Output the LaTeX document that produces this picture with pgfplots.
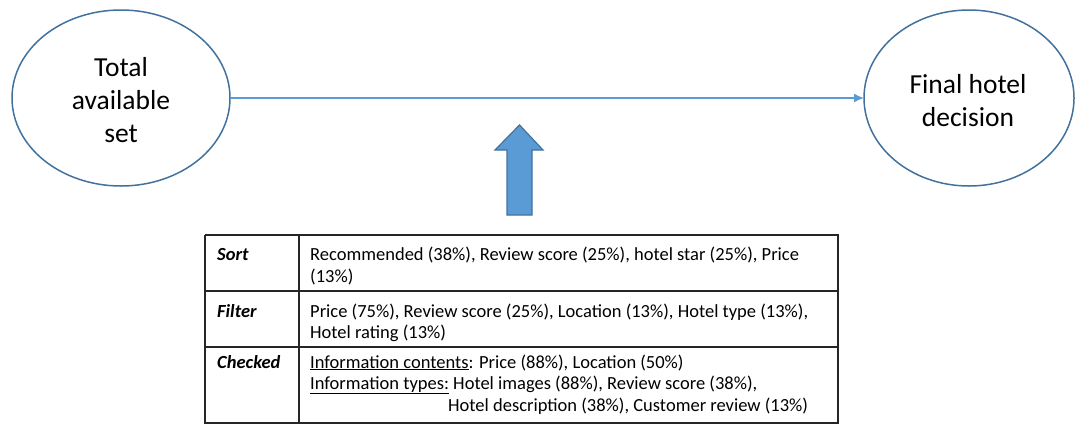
\documentclass[border=0pt]{standalone}
\usepackage{pgfplots}
\pgfplotsset{compat=1.18}
\usetikzlibrary{arrows.meta}
\usepackage{fontspec}
\setmainfont{Carlito}
\definecolor{edge}{RGB}{65,113,156}
\definecolor{fillb}{RGB}{91,155,213}
\begin{document}
\begin{tikzpicture}
\begin{axis}[x=1pt,y=1pt,xmin=0,xmax=1075,ymin=0,ymax=423,y dir=reverse,
  axis lines=none,scale only axis,clip=false,ticks=none]
% bounding
\addplot[draw=none,forget plot] coordinates {(0,0) (1075,423)};
% ellipses
\draw[edge,line width=1.5pt] (axis cs:121,98) ellipse [x radius=109, y radius=88];
\draw[edge,line width=1.5pt] (axis cs:969,98) ellipse [x radius=105, y radius=88];
% connecting arrow
\addplot[fillb,line width=1.5pt,-{Latex[length=10pt,width=9pt]}] coordinates {(230,98) (864,98)};
% up arrow
\addplot[draw=edge,fill=fillb,line width=1.2pt] coordinates {(507,215) (532,215) (532,150) (543,150) (519.5,125) (495,150) (507,150) (507,215)} --cycle;
% table
\addplot[black!85,line width=1.6pt] coordinates {(205,235) (838,235) (838,423) (205,423) (205,235)};
\addplot[black!85,line width=1.6pt] coordinates {(205,291) (838,291)};
\addplot[black!85,line width=1.6pt] coordinates {(205,347) (838,347)};
\addplot[black!85,line width=1.6pt] coordinates {(299,235) (299,423)};
% ellipse text
\node[align=center,font=\fontsize{27.5}{33}\selectfont] at (axis cs:121,100) {Total\\available\\set};
\node[align=center,font=\fontsize{27.5}{33}\selectfont] at (axis cs:968,101) {Final hotel\\decision};
% table text
\tikzset{tt/.style={anchor=base west,inner sep=0pt,font=\fontsize{18.5}{21}\selectfont}}
\node[tt] at (axis cs:217,260) {\textbf{\textit{Sort}}};
\node[tt] at (axis cs:217,317) {\textbf{\textit{Filter}}};
\node[tt] at (axis cs:217,368) {\textbf{\textit{Checked}}};
\node[tt] at (axis cs:310,260) {Recommended (38\%), Review score (25\%), hotel star (25\%), Price};
\node[tt] at (axis cs:310,282) {(13\%)};
\node[tt] at (axis cs:310,317) {Price (75\%), Review score (25\%), Location (13\%), Hotel type (13\%),};
\node[tt] at (axis cs:310,338) {Hotel rating (13\%)};
\node[tt] at (axis cs:310,368) {\underline{Information contents}: Price (88\%), Location (50\%)};
\node[tt] at (axis cs:310,389) {\underline{Information types:} Hotel images (88\%), Review score (38\%),};
\node[tt] at (axis cs:448,411) {Hotel description (38\%), Customer review (13\%)};
\end{axis}
\end{tikzpicture}
\end{document}
